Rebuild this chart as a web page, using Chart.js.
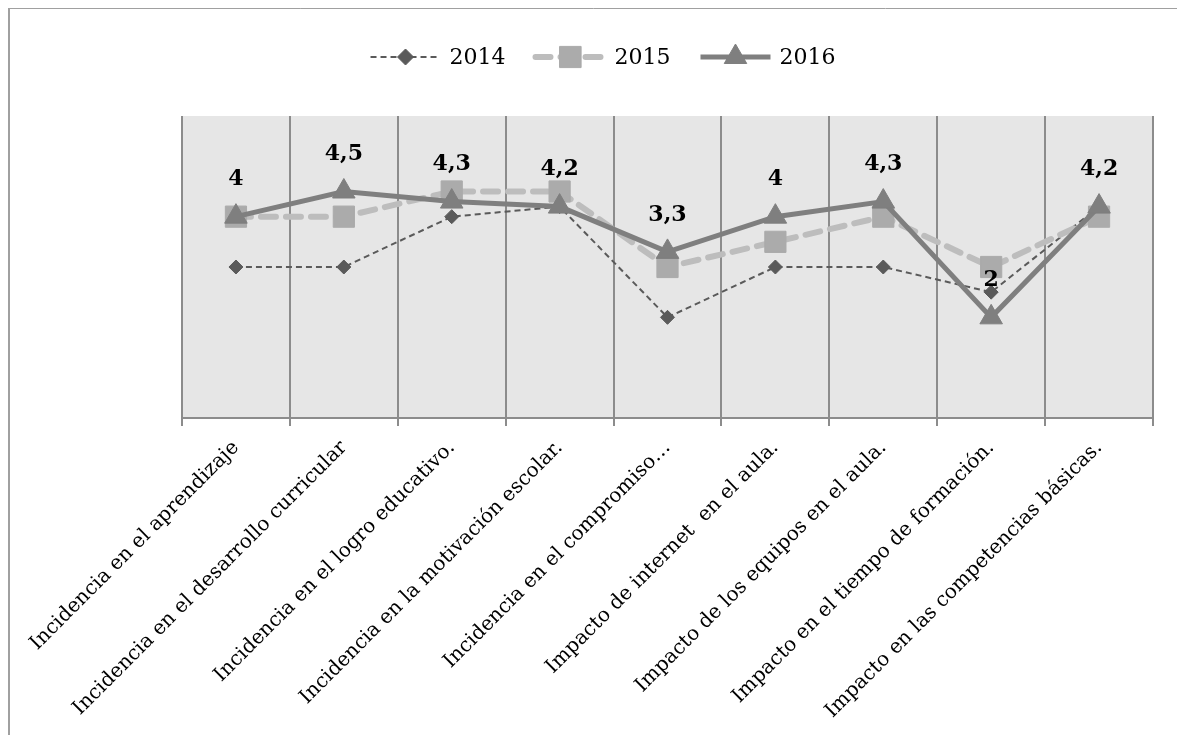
<!DOCTYPE html>
<html>
<head>
<meta charset="utf-8">
<script src="https://cdn.jsdelivr.net/npm/chart.js@4"></script>
<style>
  html, body { margin: 0; padding: 0; background: #fff; }
  #wrap { width: 1177px; height: 735px; position: relative; }
</style>
</head>
<body>
<div id="wrap"><canvas id="chart" width="1177" height="735"></canvas></div>
<script>
const categories = [
  "Incidencia en el aprendizaje",
  "Incidencia en el desarrollo curricular",
  "Incidencia en el logro educativo.",
  "Incidencia en la motivación escolar.",
  "Incidencia en el compromiso…",
  "Impacto de internet  en el aula.",
  "Impacto de los equipos en el aula.",
  "Impacto en el tiempo de formación.",
  "Impacto en las competencias básicas."
];
const years = ["2014", "2015", "2016"];
const values2014 = [3, 3, 4, 4.2, 2, 3, 3, 2.5, 4.2];
const values2015 = [4, 4, 4.5, 4.5, 3, 3.5, 4, 3, 4];
const values2016 = [4, 4.5, 4.3, 4.2, 3.3, 4, 4.3, 2, 4.2];

const serif = "'DejaVu Serif', 'Liberation Serif', serif";

// grey plot background and the outer frame
const backdrop = {
  id: "backdrop",
  beforeDraw(chart) {
    const { ctx, chartArea: a } = chart;
    ctx.save();
    ctx.fillStyle = "#e6e6e6";
    ctx.fillRect(a.left, a.top, a.right - a.left, a.bottom - a.top);
    ctx.strokeStyle = "#a0a0a0";
    ctx.lineWidth = 1;
    ctx.beginPath();
    ctx.moveTo(8.5, 740);
    ctx.lineTo(8.5, 8.5);
    ctx.lineTo(1180, 8.5);
    ctx.stroke();
    ctx.fillStyle = "#a0a0a0";
    ctx.fillRect(8, 8, 2, 730);
    ctx.restore();
  }
};

// bold value labels above the 2016 points
const valueLabels = {
  id: "valueLabels",
  afterDatasetsDraw(chart) {
    const { ctx } = chart;
    const idx = chart.data.datasets.findIndex(d => d.label === "2016");
    const meta = chart.getDatasetMeta(idx);
    ctx.save();
    ctx.font = "bold 22px " + serif;
    ctx.fillStyle = "#000";
    ctx.textAlign = "center";
    ctx.textBaseline = "middle";
    meta.data.forEach((pt, i) => {
      const v = chart.data.datasets[idx].data[i];
      ctx.fillText(String(v).replace(".", ","), pt.x, pt.y - 37);
    });
    ctx.restore();
  }
};

// legend: line sample with marker, then year
const lineLegend = {
  id: "lineLegend",
  afterDraw(chart) {
    const { ctx } = chart;
    const cx = 603, cy = 57, sample = 70, gap = 9, between = 30;
    ctx.save();
    ctx.font = "22px " + serif;
    ctx.textBaseline = "middle";
    const items = chart.data.datasets.slice().sort((a, b) => a.label.localeCompare(b.label));
    const widths = items.map(d => sample + gap + ctx.measureText(d.label).width);
    let x = cx - (widths.reduce((s, w) => s + w, 0) + between * (items.length - 1)) / 2;
    items.forEach((d, i) => {
      ctx.save();
      ctx.strokeStyle = d.borderColor;
      ctx.lineWidth = d.borderWidth;
      ctx.lineCap = d.borderCapStyle || "butt";
      ctx.setLineDash(d.borderDash || []);
      ctx.beginPath();
      ctx.moveTo(x, cy);
      ctx.lineTo(x + sample, cy);
      ctx.stroke();
      ctx.setLineDash([]);
      ctx.fillStyle = d.pointBackgroundColor;
      ctx.strokeStyle = d.pointBorderColor;
      ctx.lineWidth = 1;
      Chart.helpers.drawPoint(ctx, {
        pointStyle: d.pointStyle, radius: d.legendRadius, borderWidth: 1
      }, x + sample / 2, cy);
      ctx.restore();
      ctx.fillStyle = "#000";
      ctx.fillText(d.label, x + sample + gap, cy + 1);
      x += widths[i] + between;
    });
    ctx.restore();
  }
};

new Chart(document.getElementById("chart"), {
  type: "line",
  data: {
    labels: categories,
    datasets: [
      {
        label: years[2],
        data: values2016,
        order: 0,
        borderColor: "#7f7f7f",
        borderWidth: 5,
        pointStyle: "triangle",
        pointRadius: 13,
        legendRadius: 13,
        pointBackgroundColor: "#7f7f7f",
        pointBorderColor: "#7f7f7f",
        pointBorderWidth: 1,
        tension: 0
      },
      {
        label: years[1],
        data: values2015,
        order: 1,
        borderColor: "#bdbdbd",
        borderWidth: 6,
        borderDash: [15, 10],
        borderCapStyle: "round",
        pointStyle: "rect",
        pointRadius: 15,
        legendRadius: 15,
        pointBackgroundColor: "#ababab",
        pointBorderColor: "#ababab",
        pointBorderWidth: 1,
        tension: 0
      },
      {
        label: years[0],
        data: values2014,
        order: 2,
        borderColor: "#5a5a5a",
        borderWidth: 2,
        borderDash: [6, 4],
        pointStyle: "rectRot",
        pointRadius: 7,
        legendRadius: 8,
        pointBackgroundColor: "#5a5a5a",
        pointBorderColor: "#5a5a5a",
        pointBorderWidth: 1,
        tension: 0
      }
    ]
  },
  options: {
    responsive: false,
    animation: false,
    layout: { padding: { left: 182, right: 24, top: 116, bottom: 0 } },
    plugins: {
      legend: { display: false },
      tooltip: { enabled: false }
    },
    scales: {
      x: {
        offset: true,
        grid: {
          offset: true,
          color: "#8c8c8c",
          lineWidth: 2,
          tickLength: 8,
          drawOnChartArea: true
        },
        border: { color: "#8c8c8c", width: 2 },
        ticks: {
          autoSkip: false,
          minRotation: 45,
          maxRotation: 45,
          padding: 10,
          color: "#000",
          font: { family: serif, size: 20 }
        },
        afterFit(scale) { scale.height = 735 - 418; }
      },
      y: {
        display: false,
        min: 0,
        max: 6
      }
    }
  },
  plugins: [backdrop, valueLabels, lineLegend]
});
</script>
</body>
</html>
